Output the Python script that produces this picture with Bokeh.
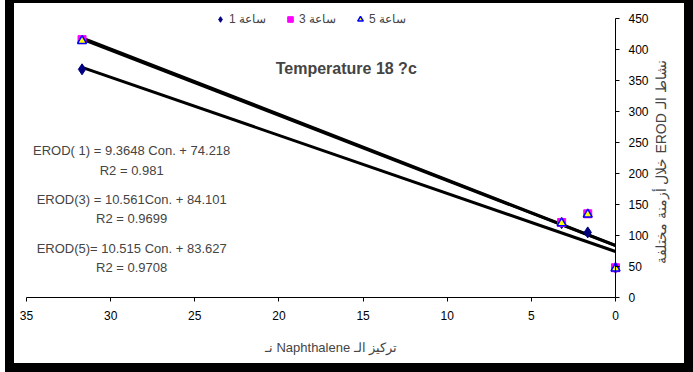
import math
from bokeh.plotting import figure
from bokeh.models import Range1d, Label, Legend, LegendItem, FixedTicker
from bokeh.embed import file_html
from bokeh.resources import INLINE

# ---- data ----
conc = [31.7, 3.2, 1.65, 0.0]          # Naphthalene concentration
erod_h1 = [368, 120, 105, 48]          # ساعة 1
erod_h3 = [416, 121, 135, 48]          # ساعة 3
erod_h5 = [414, 120, 134, 47]          # ساعة 5

slopes = [9.3648, 10.561, 10.515]
intercepts = [74.218, 84.101, 83.627]

series_names = ["ساعة 1", "ساعة 3", "ساعة 5"]
x_ticks = [0, 5, 10, 15, 20, 25, 30, 35]
y_ticks = [0, 50, 100, 150, 200, 250, 300, 350, 400, 450]

eq_texts = ["EROD( 1) = 9.3648 Con. + 74.218", "R2 = 0.981",
            "EROD(3) = 10.561Con. + 84.101", "R2 = 0.9699",
            "EROD(5)= 10.515 Con. + 83.627", "R2 = 0.9708"]
title_text = "Temperature 18 ?c"
x_title = "\u202bتركيز الـ Naphthalene نـ\u202c"
y_title = "\u202bنشاط الـ EROD خلال أزمنة مختلفة\u202c"

FONT = "Liberation Sans"

# figure geometry: plot area (0..35, 0..450) sits at 12..601 px x, 15..294 px y
W, H = 670, 360
X0, X1, Y0, Y1 = 12.0, 601.0, 15.0, 294.0
xs = (X1 - X0) / 35.0
ys = (Y1 - Y0) / 450.0
x_range = Range1d(35 + X0 / xs, 0 - (W - X1) / xs)
y_range = Range1d(0 - (H - Y1) / ys, 450 + Y0 / ys)

p = figure(width=W, height=H, output_backend="svg", toolbar_location=None,
           x_range=x_range, y_range=y_range, y_axis_location="right",
           min_border_left=0, min_border_right=0,
           min_border_top=0, min_border_bottom=0)
p.styles = {"position": "relative", "left": "14px", "top": "3px",
            "outline": "9px solid black"}
p.background_fill_color = "white"
p.border_fill_color = "white"
p.outline_line_color = None
p.grid.visible = False

for ax in (p.xaxis, p.yaxis):
    ax.fixed_location = 0
    ax.axis_line_color = "black"
    ax.axis_line_width = 1
    ax.major_tick_line_color = "black"
    ax.major_tick_out = 4
    ax.major_tick_in = 0
    ax.minor_tick_line_color = None
    ax.major_label_text_font = FONT
    ax.major_label_text_font_size = "12px"
    ax.major_label_text_color = "black"

p.xaxis.bounds = (0, 35)
p.yaxis.bounds = (0, 450)
p.xaxis.ticker = FixedTicker(ticks=x_ticks)
p.yaxis.ticker = FixedTicker(ticks=y_ticks)
p.xaxis.major_label_standoff = 9
p.yaxis.major_label_standoff = 9

# trend lines
x_end = max(conc)
for m, b in zip(slopes, intercepts):
    p.line([0, x_end], [b, m * x_end + b], line_color="black", line_width=3)

r1 = p.scatter(conc, erod_h1, marker="diamond", size=11,
               fill_color="#000080", line_color="#000080")
r3 = p.scatter(conc, erod_h3, marker="square", size=8,
               fill_color="#FF00FF", line_color="#FF00FF")
r5 = p.scatter(conc, erod_h5, marker="triangle", size=9,
               fill_color="#FFFF00", line_color="#0000FF", line_width=1.5)

legend = Legend(items=[LegendItem(label=series_names[0], renderers=[r1]),
                       LegendItem(label=series_names[1], renderers=[r3]),
                       LegendItem(label=series_names[2], renderers=[r5])],
                orientation="horizontal", location=(199, 335),
                border_line_color=None, background_fill_alpha=0,
                label_text_font=FONT, label_text_font_size="12px",
                glyph_width=14, glyph_height=18, label_height=12,
                label_standoff=2, spacing=17, padding=0, margin=0)
p.add_layout(legend)

p.add_layout(Label(x=16.0, y=369, text=title_text, text_align="center",
                   text_baseline="middle", text_font=FONT,
                   text_font_size="16px", text_font_style="bold"))

eq_y = [237, 205, 158, 127, 79, 48]
for t, yy in zip(eq_texts, eq_y):
    p.add_layout(Label(x=28.75, y=yy, text=t, text_align="center",
                       text_baseline="middle", text_font=FONT,
                       text_font_size="13px"))

# axis titles
p.add_layout(Label(x=16.9, y=-80, text=x_title, text_align="center",
                   text_baseline="middle", text_font=FONT,
                   text_font_size="13px"))
p.add_layout(Label(x=-2.7, y=218, text=y_title, angle=math.pi / 2,
                   text_align="center", text_baseline="middle",
                   text_font=FONT, text_font_size="14px"))

open("out.html", "w").write(file_html(p, INLINE))
